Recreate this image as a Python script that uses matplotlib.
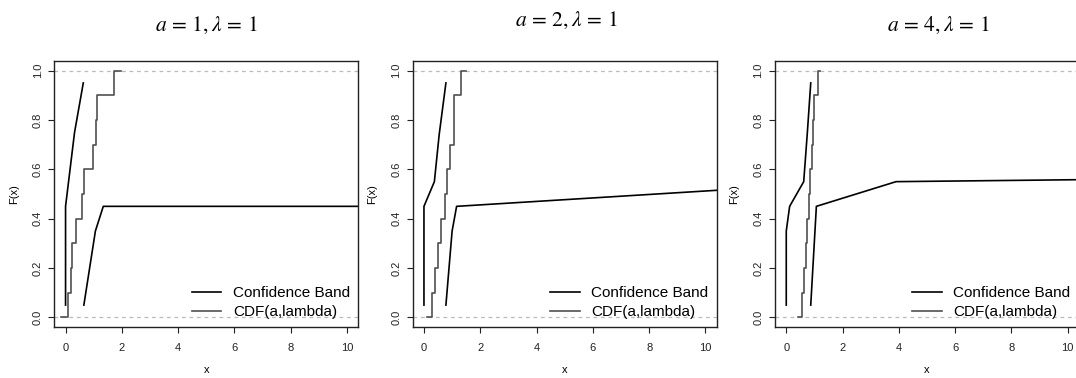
import matplotlib.pyplot as plt

plt.rcParams['font.family'] = ['Liberation Sans', 'DejaVu Sans']
plt.rcParams['mathtext.fontset'] = 'stix'

titles = [r'$a\,=\,1,\lambda\,=\,1$', r'$a\,=\,2,\lambda\,=\,1$',
          r'$a\,=\,4,\lambda\,=\,1$']

# empirical CDF levels (same for all three panels)
ecdf_y = [0.0, 0.1, 0.2, 0.3, 0.4, 0.5, 0.6, 0.7, 0.8, 0.9, 1.0, 1.0]

# step positions: start, ten jumps, end
ecdf_x = [
    [-0.15, 0.08, 0.19, 0.24, 0.38, 0.58, 0.65, 0.97, 1.09, 1.13, 1.72, 1.98],
    [0.10, 0.28, 0.40, 0.51, 0.60, 0.76, 0.82, 0.93, 1.05, 1.06, 1.31, 1.51],
    [0.43, 0.56, 0.63, 0.69, 0.72, 0.80, 0.84, 0.93, 0.96, 0.98, 1.13, 1.21],
]

# confidence band: left (upper) curve and right (lower) curve
band_left_x = [
    [0.0, 0.0, 0.32, 0.63],
    [0.0, 0.0, 0.37, 0.54, 0.78],
    [0.0, 0.0, 0.12, 0.62, 0.75, 0.87],
]
band_left_y = [
    [0.05, 0.45, 0.75, 0.95],
    [0.05, 0.45, 0.55, 0.74, 0.95],
    [0.05, 0.35, 0.45, 0.55, 0.75, 0.95],
]
band_right_x = [
    [0.65, 1.06, 1.34, 10.4],
    [0.78, 1.00, 1.16, 10.4],
    [0.87, 1.07, 3.90, 10.4],
]
band_right_y = [
    [0.05, 0.35, 0.45, 0.45],
    [0.05, 0.35, 0.45, 0.515],
    [0.05, 0.45, 0.55, 0.558],
]

W, H = 1076, 378
fig = plt.figure(figsize=(W / 100, H / 100), dpi=100)

ax_left = [54.3, 412.7, 775.0]
ax_w = 304.0
ax_bottom = 1 - 327.3 / H
ax_h = (327.3 - 60.7) / H
title_pos = [(206, 25), (566, 20), (938.5, 25)]

step_col = '#505050'

for i in range(3):
    ax = fig.add_axes([ax_left[i] / W, ax_bottom, ax_w / W, ax_h])
    ax.axhline(0, color='#bbbbbb', ls=(0, (3, 3)), lw=0.9)
    ax.axhline(1, color='#bbbbbb', ls=(0, (3, 3)), lw=0.9)
    ax.plot(band_left_x[i], band_left_y[i], color='black', lw=1.2,
            label='Confidence Band')
    ax.plot(band_right_x[i], band_right_y[i], color='black', lw=1.2)
    ax.plot(ecdf_x[i], ecdf_y, drawstyle='steps-post', color=step_col, lw=1.2,
            label='CDF(a,lambda)')
    ax.set_xlim(-0.4, 10.4)
    ax.set_ylim(-0.04, 1.04)
    ax.set_xticks([0, 2, 4, 6, 8, 10])
    ax.set_yticks([0.0, 0.2, 0.4, 0.6, 0.8, 1.0])
    ax.set_yticklabels(['0.0', '0.2', '0.4', '0.6', '0.8', '1.0'],
                       rotation=90, va='center')
    ax.tick_params(axis='x', length=4.3, width=0.8, pad=7, labelsize=8,
                   colors='#222222')
    ax.tick_params(axis='y', length=4.3, width=0.8, pad=4, labelsize=8,
                   colors='#222222')
    for sp in ax.spines.values():
        sp.set_linewidth(1.0)
        sp.set_color('#222222')
    ax.set_xlabel('x', fontsize=8, labelpad=9)
    ax.set_ylabel('F(x)', fontsize=8, labelpad=10)
    ax.legend(loc='lower right', bbox_to_anchor=(1.0, 0.0), frameon=False,
              fontsize=11, handlelength=1.95, handletextpad=0.75,
              labelspacing=0.3, borderaxespad=0.35, borderpad=0.2)
    tx, ty = title_pos[i]
    fig.text(tx / W, 1 - ty / H, titles[i], fontsize=15.5,
             ha='center', va='center')

fig.savefig('out.png', dpi=100)
